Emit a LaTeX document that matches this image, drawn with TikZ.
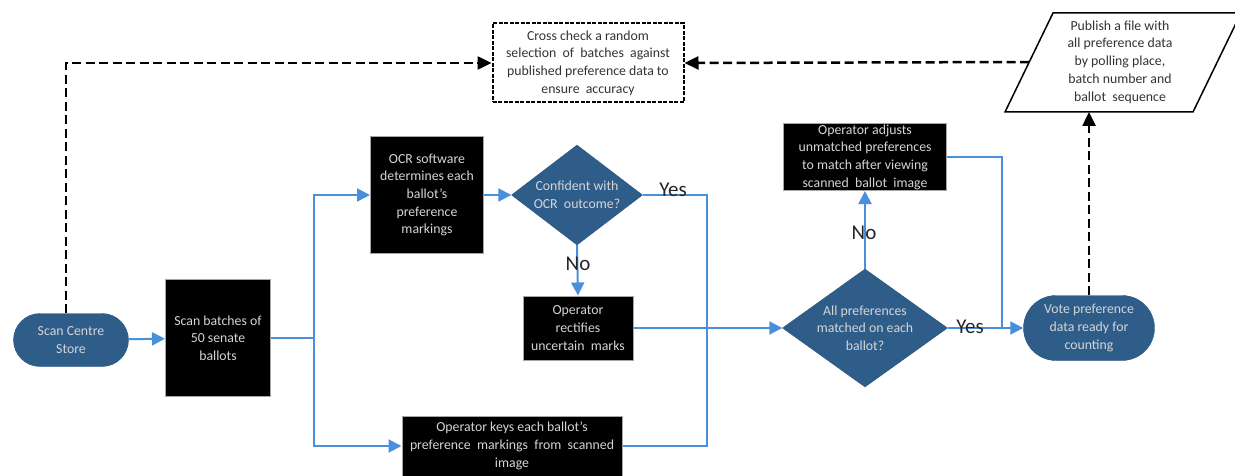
\documentclass[tikz,border=0pt]{standalone}
\usepackage{fontspec}
\setmainfont{Carlito}
\usetikzlibrary{arrows.meta,shapes.geometric,shapes.misc,calc}
\definecolor{dblue}{HTML}{2F5D8A}
\definecolor{lblue}{HTML}{4A8FDB}
\definecolor{ltxt}{HTML}{D5D5D5}
\definecolor{dtxt}{HTML}{333333}
\begin{document}
\begin{tikzpicture}[x=1pt,y=-1pt,
 txt/.style={font=\fontsize{13.8}{17.7}\selectfont, align=center},
 blackbox/.style={txt, rectangle, fill=black, draw=gray!70, line width=1pt, text=ltxt, inner sep=1pt},
 term/.style={txt, rounded rectangle, fill=dblue, draw=dblue!90!black, text=ltxt, inner sep=1pt},
 decision/.style={diamond, fill=dblue, draw=dblue!90!black, inner sep=0pt},
 dtext/.style={txt, text=ltxt},
 flow/.style={lblue, line width=2pt, -{Triangle[length=13pt,width=13pt]}},
 bline/.style={lblue, line width=2pt},
 dflow/.style={black, line width=2.5pt, dash pattern=on 9pt off 4.5pt, -{Triangle[length=14pt,width=13pt]}},
 lab/.style={font=\fontsize{21}{21}\selectfont, text=black!85}
]
\useasboundingbox (0,0) rectangle (1235,476);
\fill[white] (0,0) rectangle (1235,476);

% nodes
\node[term, minimum width=117, minimum height=53] (store) at (71,340) {Scan Centre\\Store};
\node[blackbox, minimum width=105, minimum height=117] (scan) at (218,338) {Scan batches of\\50 senate\\ballots};
\node[blackbox, minimum width=113, minimum height=116] (ocr) at (427,195) {OCR software\\determines each\\ballot's\\preference\\markings};
\node[decision, minimum width=131, minimum height=100,
  label={[dtext]center:Confident with\\OCR\ \ outcome?}] (d1) at (577,195) {};
\node[blackbox, minimum width=110, minimum height=64] (rect) at (578,328) {Operator\\rectifies\\uncertain\ \ marks};
\node[blackbox, minimum width=220, minimum height=60] (keys) at (512,446) {Operator keys each ballot's\\preference\ \ markings\ \ from\ \ scanned\\image};
\node[decision, minimum width=165, minimum height=118,
  label={[dtext]center:All preferences\\matched on each\\ballot?}] (d2) at (865,328) {};
\node[blackbox, minimum width=163, minimum height=67] (adj) at (865,157) {Operator adjusts\\unmatched preferences\\to match after viewing\\scanned\ \ ballot\ \ image};
\node[term, minimum width=133, minimum height=65] (vote) at (1089,328) {Vote preference\\data ready for\\counting};
\node[txt, draw=black, fill=white, dash pattern=on 4pt off 1.5pt, line width=2pt, minimum width=191, minimum height=79, text=dtxt] (cross) at (588,63)
  {Cross check a random\\selection\ \ of\ \ batches\ \ against\\published preference data to\\ensure\ \ accuracy};

% publish parallelogram
\draw[line width=1.5pt, fill=white] (1053,13) -- (1241,13) -- (1193,112) -- (1005,112) -- cycle;
\node[txt, text=dtxt] (pub) at (1120,62) {Publish a file with\\all preference data\\by polling place,\\batch number and\\ballot\ \ sequence};
\coordinate (pubL) at (1029,62);
\coordinate (pubB) at (1089,112);

% blue connectors
\draw[flow] (store) -- (scan);
\coordinate (j1) at ($(scan.east)+(43,0)$);
\draw[bline] (scan.east) -- (j1);
\draw[flow] (j1) |- (ocr.west);
\draw[flow] (j1) |- (keys.west);
\draw[flow] (ocr) -- (d1);
\coordinate (j2) at (707,328);
\draw[bline] (d1.east) -| (j2);
\draw[bline] (keys.east) -| (j2);
\draw[flow] (d1.south) -- (rect.north);
\draw[flow] (rect.east) -- (d2.west);
\draw[flow] (d2.north) -- (adj.south);
\coordinate (j3) at (1002,328);
\draw[bline] (adj.east) -| (j3);
\draw[flow] (d2.east) -- (vote.west);

% labels
\node[lab] (yes1) at (673,190) {Yes};
\node[lab] (no1) at (578,264) {No};
\node[lab] (no2) at (864,233) {No};
\node[lab] (yes2) at (970,327) {Yes};

% dashed connectors
\draw[dflow] ([xshift=-5pt]store.north) |- (cross.west);
\draw[dflow] (vote.north) -- (pubB);
\draw[dflow] (pubL) -- (cross.east);
\end{tikzpicture}
\end{document}
